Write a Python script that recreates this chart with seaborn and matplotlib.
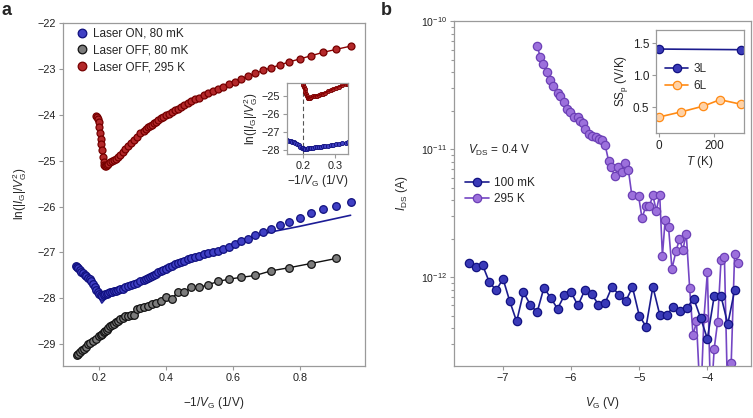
import matplotlib
matplotlib.use("Agg")
import matplotlib.pyplot as plt
import seaborn as sns
import numpy as np
import pandas as pd
from matplotlib.lines import Line2D
from matplotlib.ticker import FixedLocator, NullFormatter, LogFormatterSciNotation

# ---------------- panel a data: ln(|I_G|/V_G^2) vs -1/V_G ----------------
red_x = [0.192, 0.194, 0.196, 0.198, 0.200, 0.202, 0.204, 0.206, 0.208, 0.211, 0.213, 0.215, 0.217, 0.220, 0.222,
         0.227, 0.233, 0.238, 0.244, 0.250, 0.256, 0.263, 0.270, 0.278, 0.286, 0.294, 0.303, 0.313, 0.323, 0.333,
         0.339, 0.345, 0.351, 0.357, 0.364, 0.370, 0.377, 0.385, 0.392, 0.400, 0.408, 0.417, 0.426, 0.435, 0.444,
         0.455, 0.465, 0.476, 0.488, 0.500, 0.513, 0.526, 0.541, 0.556, 0.571, 0.588, 0.606, 0.625, 0.645, 0.667,
         0.690, 0.714, 0.741, 0.769, 0.800, 0.833, 0.870, 0.909, 0.952]
red_y = [-24.03, -24.05, -24.10, -24.17, -24.27, -24.40, -24.52, -24.64, -24.78, -24.92, -25.03, -25.09, -25.12,
         -25.12, -25.10, -25.07, -25.03, -25.00, -24.98, -24.96, -24.92, -24.87, -24.82, -24.75, -24.68, -24.61,
         -24.55, -24.48, -24.41, -24.35, -24.32, -24.28, -24.25, -24.22, -24.18, -24.15, -24.12, -24.08, -24.05,
         -24.01, -23.98, -23.94, -23.90, -23.87, -23.83, -23.79, -23.75, -23.71, -23.67, -23.63, -23.58, -23.54,
         -23.49, -23.44, -23.39, -23.33, -23.28, -23.22, -23.16, -23.10, -23.04, -22.98, -22.92, -22.85, -22.79,
         -22.72, -22.645, -22.58, -22.51]

blue_x = [0.130, 0.133, 0.137, 0.142, 0.147, 0.152, 0.157, 0.162, 0.167, 0.172, 0.177, 0.182, 0.187,
          0.192, 0.196, 0.200, 0.204, 0.208, 0.213, 0.217, 0.222,
          0.227, 0.233, 0.238, 0.244, 0.250, 0.256, 0.263, 0.270, 0.278, 0.286, 0.294, 0.303, 0.313, 0.323, 0.333,
          0.339, 0.345, 0.351, 0.357, 0.364, 0.370, 0.377, 0.385, 0.392, 0.400, 0.408, 0.417, 0.426, 0.435, 0.444,
          0.455, 0.465, 0.476, 0.488, 0.500, 0.513, 0.526, 0.541, 0.556, 0.571, 0.588, 0.606, 0.625, 0.645, 0.667,
          0.690, 0.714, 0.741, 0.769, 0.800, 0.833, 0.870, 0.909, 0.952]
blue_y = [-27.30, -27.31, -27.34, -27.38, -27.42, -27.45, -27.49, -27.52, -27.55, -27.58, -27.62, -27.68, -27.75,
          -27.82, -27.87, -27.90, -27.92, -27.94, -27.93, -27.91, -27.90,
          -27.88, -27.87, -27.85, -27.84, -27.83, -27.82, -27.80, -27.79, -27.76, -27.74, -27.71, -27.69, -27.66,
          -27.63, -27.60, -27.57, -27.55, -27.53, -27.51, -27.48, -27.46, -27.43, -27.40, -27.38, -27.36, -27.32,
          -27.29, -27.26, -27.23, -27.21, -27.18, -27.15, -27.13, -27.10, -27.07, -27.04, -27.02, -27.00, -26.96,
          -26.92, -26.87, -26.81, -26.75, -26.70, -26.63, -26.55, -26.49, -26.40, -26.33, -26.24, -26.14, -26.06,
          -25.98, -25.91]

# model curve drawn for the laser-on data
fit_x = [0.185, 0.208, 0.225, 0.250, 0.300, 0.350, 0.365, 0.400, 0.405, 0.420, 0.500, 0.600, 0.660, 0.700,
         0.730, 0.800, 0.870, 0.952]
fit_y = [-27.78, -28.10, -27.95, -27.86, -27.70, -27.50, -27.45, -27.28, -27.36, -27.30, -27.08, -26.82, -26.66,
         -26.58, -26.53, -26.43, -26.32, -26.19]

black_x = [0.133, 0.138, 0.143, 0.148, 0.154, 0.160, 0.167, 0.174, 0.182, 0.190, 0.200, 0.204, 0.208, 0.213,
           0.217, 0.222, 0.227, 0.233, 0.238, 0.244, 0.250, 0.256, 0.263, 0.270, 0.278, 0.286, 0.294, 0.303,
           0.313, 0.323, 0.333, 0.345, 0.357, 0.370, 0.385, 0.400, 0.417, 0.435, 0.455, 0.476, 0.500, 0.526,
           0.556, 0.588, 0.625, 0.667, 0.714, 0.769, 0.833, 0.909]
black_y = [-29.23, -29.20, -29.17, -29.13, -29.09, -29.05, -29.00, -28.96, -28.92, -28.88, -28.82, -28.79, -28.77,
           -28.74, -28.71, -28.68, -28.65, -28.61, -28.58, -28.55, -28.52, -28.48, -28.45, -28.42, -28.39, -28.38,
           -28.36, -28.37, -28.24, -28.21, -28.19, -28.17, -28.12, -28.10, -28.06, -27.96, -28.01, -27.86, -27.87,
           -27.75, -27.76, -27.70, -27.63, -27.58, -27.54, -27.50, -27.40, -27.33, -27.24, -27.13]

labels_a = ['Laser ON, 80 mK', 'Laser OFF, 80 mK', 'Laser OFF, 295 K']

# ---------------- panel b data: I_DS vs V_G ----------------
cold_vg = [-7.5, -7.4, -7.3, -7.2, -7.1, -7.0, -6.9, -6.8, -6.7, -6.6, -6.5, -6.4, -6.3, -6.2, -6.1, -6.0, -5.9,
           -5.8, -5.7, -5.6, -5.5, -5.4, -5.3, -5.2, -5.1, -5.0, -4.9, -4.8, -4.7, -4.6, -4.5, -4.4, -4.3, -4.2,
           -4.1, -4.0, -3.9, -3.8, -3.7, -3.6]
cold_ids = [1.30e-12, 1.19e-12, 1.24e-12, 9.1e-13, 7.9e-13, 9.7e-13, 6.45e-13, 4.5e-13, 7.6e-13, 6.1e-13,
            5.3e-13, 8.25e-13, 6.9e-13, 5.65e-13, 7.2e-13, 7.6e-13, 6.0e-13, 7.9e-13, 7.4e-13, 6.1e-13,
            6.3e-13, 8.4e-13, 7.3e-13, 6.45e-13, 8.35e-13, 5.0e-13, 4.1e-13, 8.4e-13, 5.1e-13, 5.1e-13,
            5.8e-13, 5.4e-13, 5.75e-13, 6.8e-13, 4.8e-13, 3.3e-13, 7.1e-13, 7.1e-13, 4.3e-13, 7.9e-13]

hot_vg = [-6.50, -6.45, -6.41, -6.36, -6.31, -6.26, -6.20, -6.16, -6.11, -6.06, -6.01, -5.96, -5.90, -5.87,
          -5.82, -5.79, -5.74, -5.69, -5.64, -5.59, -5.55, -5.50, -5.45, -5.42, -5.36, -5.31, -5.26, -5.21,
          -5.16, -5.11, -5.01, -4.96, -4.90, -4.85, -4.80, -4.75, -4.70, -4.66, -4.62, -4.57, -4.52, -4.46,
          -4.41, -4.36, -4.31, -4.26, -4.21, -4.16, -4.10, -4.05, -4.00, -3.95, -3.90, -3.85, -3.80, -3.75,
          -3.70, -3.65, -3.60, -3.55]
hot_ids = [6.4e-11, 5.2e-11, 4.6e-11, 4.0e-11, 3.45e-11, 3.1e-11, 2.75e-11, 2.58e-11, 2.32e-11, 2.07e-11,
           1.94e-11, 1.77e-11, 1.78e-11, 1.67e-11, 1.60e-11, 1.43e-11, 1.32e-11, 1.27e-11, 1.24e-11, 1.20e-11,
           1.18e-11, 1.07e-11, 8.1e-12, 7.3e-12, 6.2e-12, 7.2e-12, 6.6e-12, 7.8e-12, 6.9e-12, 4.4e-12,
           4.3e-12, 2.9e-12, 3.6e-12, 3.6e-12, 4.35e-12, 3.3e-12, 4.4e-12, 1.47e-12, 2.8e-12, 2.45e-12,
           1.16e-12, 1.6e-12, 1.98e-12, 1.64e-12, 2.18e-12, 8.2e-13, 3.5e-13, 4.5e-13, 1.0e-13, 4.8e-13,
           1.09e-12, 1.0e-13, 2.75e-13, 4.45e-13, 1.35e-12, 1.43e-12, 1.0e-13, 2.15e-13, 1.52e-12, 1.30e-12]

labels_b = ['100 mK', '295 K']
decades = [1e-12, 1e-11, 1e-10]
minor_ticks = [3e-13, 4e-13, 5e-13, 6e-13, 7e-13, 8e-13, 9e-13,
               2e-12, 3e-12, 4e-12, 5e-12, 6e-12, 7e-12, 8e-12, 9e-12,
               2e-11, 3e-11, 4e-11, 5e-11, 6e-11, 7e-11, 8e-11, 9e-11]

# inset b: SS_p vs T
temp_3l = [0, 295]
ss_3l = [1.41, 1.40]
temp_6l = [0, 80, 160, 220, 295]
ss_6l = [0.35, 0.43, 0.52, 0.62, 0.55]

# ---------------- colours ----------------
blue_face, blue_edge, blue_line = '#4040c4', '#10107e', '#1c1c96'
black_face, black_edge = '#7c7c7c', '#111111'
red_face, red_edge, red_line = '#b3282a', '#760000', '#8a0000'
navy_face, navy_edge, navy_line = '#3a3ab8', '#121282', '#1c1c8e'
purp_face, purp_edge, purp_line = '#9c70dc', '#6c40b6', '#7446c4'
orng_face, orng_edge = '#ffd2a6', '#ff8a14'
spine_col = '#9a9a9a'

sns.set_style("ticks")
plt.rcParams['font.family'] = ['Liberation Sans', 'DejaVu Sans']
plt.rcParams['mathtext.fontset'] = 'custom'
plt.rcParams['mathtext.rm'] = 'Liberation Sans'
plt.rcParams['mathtext.it'] = 'Liberation Sans:italic'
plt.rcParams['mathtext.bf'] = 'Liberation Sans:bold'
plt.rcParams['axes.unicode_minus'] = True

FS = 8.5
TFS = 7.8


def style(ax, fs=TFS):
    for s in ax.spines.values():
        s.set_visible(True)
        s.set_color(spine_col)
        s.set_linewidth(0.9)
    ax.tick_params(which='both', direction='out', color=spine_col, labelcolor='#222222',
                   labelsize=fs, width=0.8, length=3, pad=2)
    ax.tick_params(which='minor', length=2)


fig = plt.figure(figsize=(7.53, 4.18), dpi=100)
ax_a = fig.add_axes([0.0833, 0.1244, 0.4014, 0.8213])
ax_b = fig.add_axes([0.6029, 0.1244, 0.3944, 0.8250])

# ---------- panel a ----------
df_red = pd.DataFrame({'x': red_x, 'y': red_y})
df_blue = pd.DataFrame({'x': blue_x, 'y': blue_y})
df_fit = pd.DataFrame({'x': fit_x, 'y': fit_y})
df_black = pd.DataFrame({'x': black_x, 'y': black_y})

sns.lineplot(data=df_black, x='x', y='y', ax=ax_a, color='#111111', lw=1.0, sort=False, estimator=None, zorder=2)
sns.lineplot(data=df_red, x='x', y='y', ax=ax_a, color=red_line, lw=1.0, sort=False, estimator=None, zorder=2)
sns.lineplot(data=df_fit, x='x', y='y', ax=ax_a, color=blue_line, lw=1.2, sort=False, estimator=None, zorder=2)
sns.scatterplot(data=df_black, x='x', y='y', ax=ax_a, s=30, color=black_face, edgecolor=black_edge,
                linewidth=0.9, zorder=3)
sns.scatterplot(data=df_red, x='x', y='y', ax=ax_a, s=25, color=red_face, edgecolor=red_edge,
                linewidth=0.9, zorder=3)
sns.scatterplot(data=df_blue, x='x', y='y', ax=ax_a, s=30, color=blue_face, edgecolor=blue_edge,
                linewidth=0.9, zorder=3)

ax_a.set_xlim(0.091, 0.995)
ax_a.set_ylim(-29.47, -22.0)
ax_a.xaxis.set_major_locator(FixedLocator([0.2, 0.4, 0.6, 0.8]))
ax_a.yaxis.set_major_locator(FixedLocator([-29, -28, -27, -26, -25, -24, -23, -22]))
style(ax_a)
ax_a.set_xlabel(r'$-1/V_\mathrm{G}$ (1/V)', fontsize=FS, labelpad=9)
ax_a.set_ylabel(r'ln(|$I_\mathrm{G}$|/$V_\mathrm{G}^2$)', fontsize=FS, labelpad=6)

handles_a = [Line2D([], [], ls='none', marker='o', ms=6.2, mfc=blue_face, mec=blue_edge, mew=0.9),
             Line2D([], [], ls='none', marker='o', ms=6.2, mfc=black_face, mec=black_edge, mew=0.9),
             Line2D([], [], ls='none', marker='o', ms=6.2, mfc=red_face, mec=red_edge, mew=0.9)]
ax_a.legend(handles_a, labels_a, loc='upper left', bbox_to_anchor=(0.045, 0.985), frameon=False,
            fontsize=8.5, handlelength=1.0, handletextpad=0.45, labelspacing=0.4, borderpad=0,
            borderaxespad=0)

# inset a
ins_a = fig.add_axes([0.3807, 0.6309, 0.0818, 0.1699])
sns.lineplot(data=df_red, x='x', y='y', ax=ins_a, color=red_line, lw=1.0, sort=False, estimator=None)
sns.scatterplot(data=df_red, x='x', y='y', ax=ins_a, s=9, color=red_face, edgecolor=red_edge, linewidth=0.6)
sns.scatterplot(data=df_blue, x='x', y='y', ax=ins_a, s=9, color=blue_face, edgecolor=blue_edge, linewidth=0.6)
ins_a.axvline(0.2, color='#555555', ls=(0, (4, 2.5)), lw=0.8, zorder=0)
ins_a.set_xlim(0.15, 0.341)
ins_a.set_ylim(-28.24, -24.3)
ins_a.xaxis.set_major_locator(FixedLocator([0.2, 0.3]))
ins_a.yaxis.set_major_locator(FixedLocator([-28, -27, -26, -25]))
style(ins_a)
ins_a.set_xlabel(r'$-1/V_\mathrm{G}$ (1/V)', fontsize=FS, labelpad=1)
ins_a.set_ylabel(r'ln(|$I_\mathrm{G}$|/$V_\mathrm{G}^2$)', fontsize=FS, labelpad=1)

# ---------- panel b ----------
df_cold = pd.DataFrame({'vg': cold_vg, 'ids': cold_ids})
df_hot = pd.DataFrame({'vg': hot_vg, 'ids': hot_ids})
sns.lineplot(data=df_cold, x='vg', y='ids', ax=ax_b, color=navy_line, lw=1.2, marker='o', ms=6,
             mfc=navy_face, mec=navy_edge, mew=0.9, sort=False, estimator=None, zorder=3)
sns.lineplot(data=df_hot, x='vg', y='ids', ax=ax_b, color=purp_line, lw=1.2, marker='o', ms=6,
             mfc=purp_face, mec=purp_edge, mew=0.9, sort=False, estimator=None, zorder=2)
ax_b.set_yscale('log')
ax_b.set_xlim(-7.72, -3.36)
ax_b.set_ylim(2.02e-13, 1e-10)
ax_b.xaxis.set_major_locator(FixedLocator([-7, -6, -5, -4]))
ax_b.yaxis.set_major_locator(FixedLocator(decades))
ax_b.yaxis.set_major_formatter(LogFormatterSciNotation())
ax_b.yaxis.set_minor_locator(FixedLocator(minor_ticks))
ax_b.yaxis.set_minor_formatter(NullFormatter())
style(ax_b)
ax_b.tick_params(axis='y', which='major', labelsize=7.6)
ax_b.set_xlabel(r'$V_\mathrm{G}$ (V)', fontsize=FS, labelpad=9)
ax_b.set_ylabel(r'$I_\mathrm{DS}$ (A)', fontsize=FS, labelpad=8)
ax_b.text(0.047, 0.626, r'$V_\mathrm{DS}$ = 0.4 V', transform=ax_b.transAxes, fontsize=FS, va='center')

handles_b = [Line2D([], [], color=navy_line, lw=1.2, marker='o', ms=6, mfc=navy_face, mec=navy_edge, mew=0.9),
             Line2D([], [], color=purp_line, lw=1.2, marker='o', ms=6, mfc=purp_face, mec=purp_edge, mew=0.9)]
ax_b.legend(handles_b, labels_b, loc='upper left', bbox_to_anchor=(0.037, 0.547), frameon=False,
            fontsize=FS, handlelength=2.0, handletextpad=0.5, labelspacing=0.35, borderpad=0, borderaxespad=0)

# inset b
ins_b = fig.add_axes([0.8712, 0.6825, 0.1173, 0.2457])
df_3l = pd.DataFrame({'T': temp_3l, 'ss': ss_3l})
df_6l = pd.DataFrame({'T': temp_6l, 'ss': ss_6l})
sns.lineplot(data=df_3l, x='T', y='ss', ax=ins_b, color=navy_line, lw=1.2, marker='o', ms=6,
             mfc=navy_face, mec=navy_edge, mew=0.9, estimator=None)
sns.lineplot(data=df_6l, x='T', y='ss', ax=ins_b, color=orng_edge, lw=1.2, marker='o', ms=6,
             mfc=orng_face, mec=orng_edge, mew=0.9, estimator=None)
ins_b.set_xlim(-11, 308)
ins_b.set_ylim(0.105, 1.707)
ins_b.xaxis.set_major_locator(FixedLocator([0, 200]))
ins_b.yaxis.set_major_locator(FixedLocator([0.5, 1.0, 1.5]))
ins_b.set_yticklabels(['0.5', '1.0', '1.5'])
style(ins_b, fs=FS)
ins_b.set_xlabel(r'$T$ (K)', fontsize=FS, labelpad=2)
ins_b.set_ylabel(r'SS$_\mathrm{p}$ (V/K)', fontsize=FS, labelpad=2)
handles_i = [Line2D([], [], color=navy_line, lw=1.2, marker='o', ms=6, mfc=navy_face, mec=navy_edge, mew=0.9),
             Line2D([], [], color=orng_edge, lw=1.2, marker='o', ms=6, mfc=orng_face, mec=orng_edge, mew=0.9)]
ins_b.legend(handles_i, ['3L', '6L'], loc='upper left', bbox_to_anchor=(0.10, 0.68), frameon=False,
             fontsize=FS, handlelength=2.0, handletextpad=0.4, labelspacing=0.45, borderpad=0, borderaxespad=0)

fig.text(0.002, 0.995, 'a', fontsize=13, fontweight='bold', va='top', ha='left')
fig.text(0.506, 0.995, 'b', fontsize=13, fontweight='bold', va='top', ha='left')

fig.savefig('out.png', dpi=100)
